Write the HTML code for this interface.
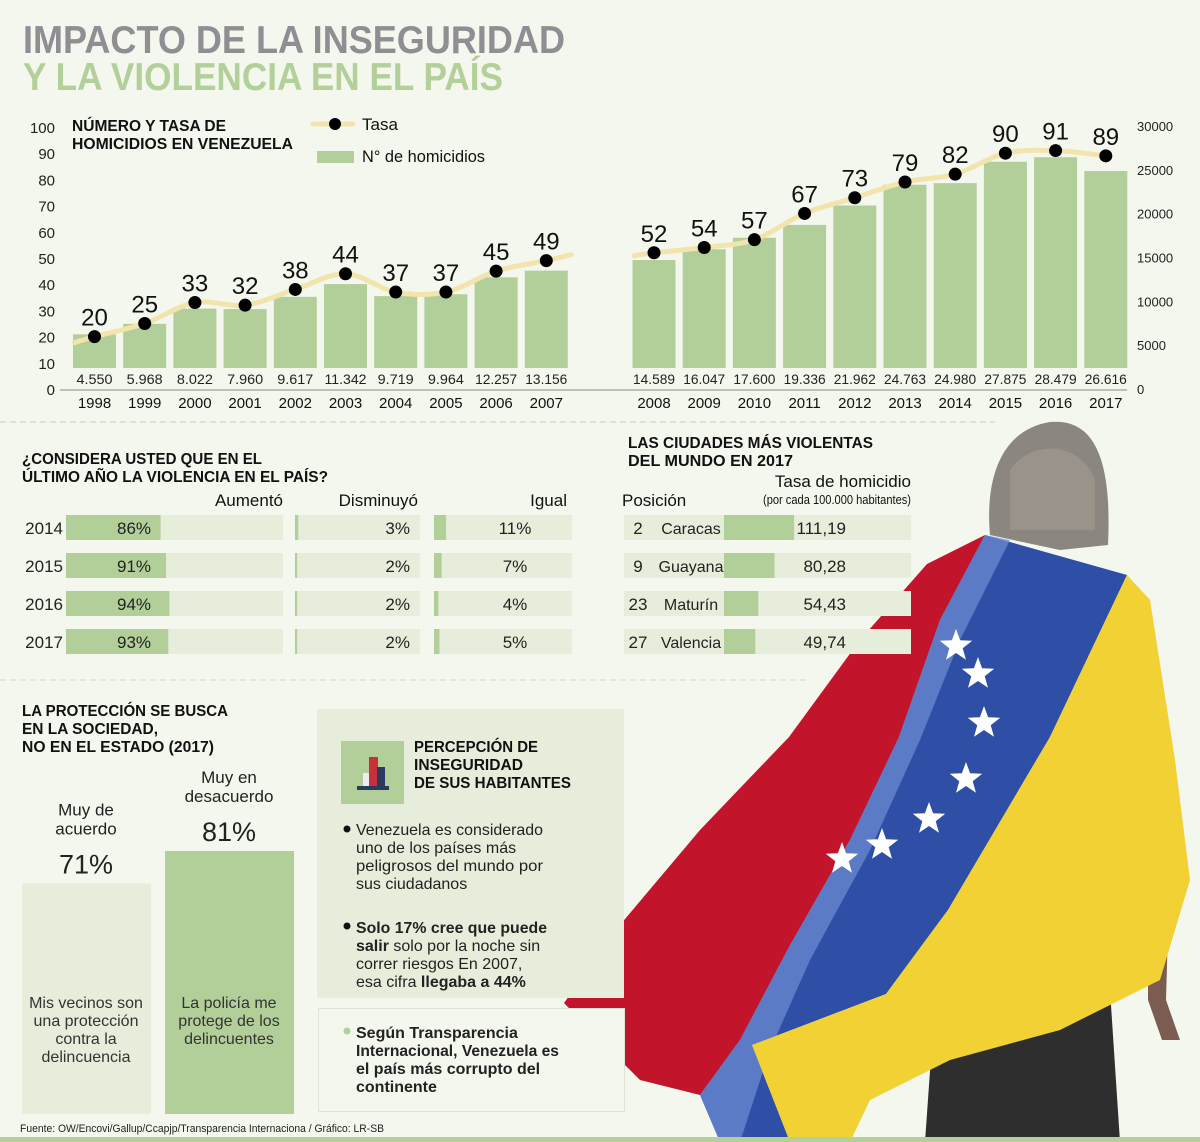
<!DOCTYPE html>
<html><head><meta charset="utf-8">
<style>
html,body{margin:0;padding:0;background:#f4f7ee;}
svg{display:block;font-family:"Liberation Sans Narrow","Liberation Sans",sans-serif;}
.b{font-weight:bold}
</style></head>
<body>
<svg id="page" width="1200" height="1142" viewBox="0 0 1200 1142">
<rect x="0" y="0" width="1200" height="1142" fill="#f4f7ee"/>

<!-- Person and flag illustration (behind everything) -->
<g>
<path d="M935,1000 L1110,990 L1120,1142 L925,1142 Z" fill="#2e2e2e"/>
<path d="M1148,854 L1170,860 L1166,1000 L1180,1040 L1162,1040 L1148,1000 Z" fill="#7a5d50"/>
<path d="M990,535 C985,480 1000,430 1050,422 C1095,418 1112,460 1108,545 L1060,550 Z" fill="#8c8680"/>
<path d="M1010,470 C1030,440 1080,440 1095,480 L1095,530 L1010,530 Z" fill="#a39c90" opacity="0.6"/>
<path d="M564,1003 L625,919 L700,830 L789,737 L860,640 L927,564 L985,535 L940,620 L899,737 L850,840 L789,947 L740,1040 L700,1095 L640,1080 L600,1040 Z" fill="#c2142b"/>
<path d="M985,535 L1127,575 L1050,737 L948,910 L886,994 L752,1045 L790,1142 L720,1142 L700,1095 L740,1040 L789,947 L850,840 L899,737 L940,620 Z" fill="#2f4fa6"/>
<path d="M985,535 L1010,540 L960,640 L920,740 L870,850 L810,960 L770,1050 L740,1142 L720,1142 L700,1095 L740,1040 L789,947 L850,840 L899,737 L940,620 Z" fill="#6f8fd6" opacity="0.7"/>
<path d="M1127,575 L1150,600 L1175,760 L1190,880 L1160,980 L1060,1030 L950,1060 L870,1100 L850,1142 L790,1142 L752,1045 L886,994 L948,910 L1050,737 Z" fill="#f1d133"/>
<g fill="#fff" id="stars"></g>
</g>

<!-- Title -->
<text x="23" y="53" font-size="39" class="b" fill="#8e8e93" textLength="542" lengthAdjust="spacingAndGlyphs">IMPACTO DE LA INSEGURIDAD</text>
<text x="23" y="90" font-size="39" class="b" fill="#b3d09a" textLength="480" lengthAdjust="spacingAndGlyphs">Y LA VIOLENCIA EN EL PAÍS</text>

<!-- Chart 1 -->
<g id="chart1">
<text x="72" y="131" font-size="16" class="b" fill="#111" textLength="154" lengthAdjust="spacingAndGlyphs">NÚMERO Y TASA DE</text>
<text x="72" y="149" font-size="16" class="b" fill="#111" textLength="221" lengthAdjust="spacingAndGlyphs">HOMICIDIOS EN VENEZUELA</text>
<g>
<line x1="313" y1="124" x2="353" y2="124" stroke="#f1e4ad" stroke-width="5" stroke-linecap="round"/>
<circle cx="335" cy="124" r="6" fill="#000"/>
<text x="362" y="130" font-size="17" fill="#111">Tasa</text>
<rect x="317" y="151" width="37" height="12" fill="#b2cf9a"/>
<text x="362" y="162" font-size="17" fill="#111" textLength="123" lengthAdjust="spacingAndGlyphs">N° de homicidios</text>
</g>
<line x1="60" y1="390" x2="1127" y2="390" stroke="#888" stroke-width="1"/>
</g>

<!-- separator -->
<line x1="0" y1="422" x2="995" y2="422" stroke="#c8c8c8" stroke-dasharray="6,4"/>
<line x1="0" y1="680" x2="810" y2="680" stroke="#d4d4d4" stroke-dasharray="6,4"/>

<!-- Survey -->
<g id="survey">
<text x="22" y="464" font-size="16" class="b" fill="#111" textLength="240" lengthAdjust="spacingAndGlyphs">¿CONSIDERA USTED QUE EN EL</text>
<text x="22" y="482" font-size="16" class="b" fill="#111" textLength="306" lengthAdjust="spacingAndGlyphs">ÚLTIMO AÑO LA VIOLENCIA EN EL PAÍS?</text>
<text x="283" y="506" font-size="17" text-anchor="end" fill="#111">Aumentó</text>
<text x="418" y="506" font-size="17" text-anchor="end" fill="#111">Disminuyó</text>
<text x="567" y="506" font-size="17" text-anchor="end" fill="#111">Igual</text>
</g>

<!-- Cities -->
<g id="cities">
<text x="628" y="448" font-size="16" class="b" fill="#111" textLength="245" lengthAdjust="spacingAndGlyphs">LAS CIUDADES MÁS VIOLENTAS</text>
<text x="628" y="466" font-size="16" class="b" fill="#111" textLength="165" lengthAdjust="spacingAndGlyphs">DEL MUNDO EN 2017</text>
<text x="622" y="506" font-size="17" fill="#111">Posición</text>
<text x="911" y="487" font-size="17" text-anchor="end" fill="#111">Tasa de homicidio</text>
<text x="911" y="504" font-size="13" text-anchor="end" fill="#111" textLength="148" lengthAdjust="spacingAndGlyphs">(por cada 100.000 habitantes)</text>
</g>

<!-- Protection -->
<g>
<text x="22" y="716" font-size="16" class="b" fill="#111" textLength="206" lengthAdjust="spacingAndGlyphs">LA PROTECCIÓN SE BUSCA</text>
<text x="22" y="734" font-size="16" class="b" fill="#111" textLength="136" lengthAdjust="spacingAndGlyphs">EN LA SOCIEDAD,</text>
<text x="22" y="752" font-size="16" class="b" fill="#111" textLength="192" lengthAdjust="spacingAndGlyphs">NO EN EL ESTADO (2017)</text>
<g id="protbars"></g>
</g>

<!-- Perception box -->
<g>
<rect x="317" y="709" width="307" height="289" fill="#e6eedb"/>
<rect x="341" y="741" width="63" height="63" fill="#b2cf9a"/>
<rect x="363" y="773" width="8" height="14" fill="#eee"/>
<rect x="369" y="757" width="9" height="30" fill="#c8303c"/>
<rect x="377" y="767" width="8" height="20" fill="#2b3a5e"/>
<rect x="357" y="786" width="32" height="4" fill="#2b3a5e"/>
<text x="414" y="752" font-size="16" class="b" fill="#111" textLength="124" lengthAdjust="spacingAndGlyphs">PERCEPCIÓN DE</text>
<text x="414" y="770" font-size="16" class="b" fill="#111" textLength="109" lengthAdjust="spacingAndGlyphs">INSEGURIDAD</text>
<text x="414" y="788" font-size="16" class="b" fill="#111" textLength="157" lengthAdjust="spacingAndGlyphs">DE SUS HABITANTES</text>
<g font-size="16" fill="#222">
<circle cx="347" cy="829" r="3.5" fill="#111"/>
<text x="356" y="835" textLength="187" lengthAdjust="spacingAndGlyphs">Venezuela es considerado</text>
<text x="356" y="853">uno de los países más</text>
<text x="356" y="871" textLength="187" lengthAdjust="spacingAndGlyphs">peligrosos del mundo por</text>
<text x="356" y="889">sus ciudadanos</text>
</g>
<g font-size="16" fill="#222">
<circle cx="347" cy="926" r="3.5" fill="#111"/>
<text x="356" y="933" textLength="191" lengthAdjust="spacingAndGlyphs"><tspan font-weight="bold">Solo 17% cree que puede</tspan></text>
<text x="356" y="951"><tspan font-weight="bold">salir</tspan> solo por la noche sin</text>
<text x="356" y="969">correr riesgos En 2007,</text>
<text x="356" y="987">esa cifra <tspan font-weight="bold">llegaba a 44%</tspan></text>
</g>
<rect x="318.5" y="1008.5" width="306" height="103" fill="#f4f7ee" stroke="#dde6d2"/>
<g font-size="16" fill="#222" font-weight="bold">
<circle cx="347" cy="1031" r="3.5" fill="#b2cf9a"/>
<text x="356" y="1038">Según Transparencia</text>
<text x="356" y="1056" textLength="203" lengthAdjust="spacingAndGlyphs">Internacional, Venezuela es</text>
<text x="356" y="1074">el país más corrupto del</text>
<text x="356" y="1092">continente</text>
</g>
</g>

<text x="20" y="1132" font-size="11" fill="#222" textLength="364" lengthAdjust="spacingAndGlyphs">Fuente: OW/Encovi/Gallup/Ccapjp/Transparencia Internaciona / Gráfico: LR-SB</text>
<rect x="0" y="1137" width="1200" height="5" fill="#b3d09a"/>
</svg>

<script>
// ---- Chart 1 data ----
const years1 = ["1998","1999","2000","2001","2002","2003","2004","2005","2006","2007"];
const years2 = ["2008","2009","2010","2011","2012","2013","2014","2015","2016","2017"];
const homicides1 = [4550,5968,8022,7960,9617,11342,9719,9964,12257,13156];
const homicides2 = [14589,16047,17600,19336,21962,24763,24980,27875,28479,26616];
const rate1 = [20,25,33,32,38,44,37,37,45,49];
const rate2 = [52,54,57,67,73,79,82,90,91,89];
const homLabels1 = ["4.550","5.968","8.022","7.960","9.617","11.342","9.719","9.964","12.257","13.156"];
const homLabels2 = ["14.589","16.047","17.600","19.336","21.962","24.763","24.980","27.875","28.479","26.616"];
const leftTicks = [0,10,20,30,40,50,60,70,80,90,100];
const rightTicks = [0,5000,10000,15000,20000,25000,30000];

// ---- Survey data ----
const surveyYears = ["2014","2015","2016","2017"];
const aumento = [86,91,94,93];
const disminuyo = [3,2,2,2];
const igual = [11,7,4,5];

// ---- Cities data ----
const cityPos = ["2","9","23","27"];
const cityNames = ["Caracas","Guayana","Maturín","Valencia"];
const cityRates = [111.19,80.28,54.43,49.74];

// ---- Protection data ----
const protLabels = [["Muy de","acuerdo"],["Muy en","desacuerdo"]];
const protValues = [71,81];
const protDesc = [["Mis vecinos son","una protección","contra la","delincuencia"],["La policía me","protege de los","delincuentes"]];

const NS = "http://www.w3.org/2000/svg";
function mk(tag, attrs, parent, txt){
  const e = document.createElementNS(NS, tag);
  for (const k in attrs) e.setAttribute(k, attrs[k]);
  if (txt !== undefined) e.textContent = txt;
  parent.appendChild(e);
  return e;
}
const chart = document.getElementById("chart1");
const rateY = v => 389 - v * 2.62;
const barY = v => 368 - v * 0.0074;
const xCenter = (g, i) => (g === 0 ? 94.5 : 654) + i * 50.2;

leftTicks.forEach(t => {
  const e = mk("text", {x: 55, y: rateY(t) + 6, "font-size": 15, "text-anchor": "end", fill: "#222"}, chart, String(t));
  
  
});
rightTicks.forEach(t => {
  const e = mk("text", {x: 1137, y: 389 - t / 30000 * 263 + 5, "font-size": 13, fill: "#222"}, chart, String(t));
  
  
});

function smooth(pts){
  let d = "M" + pts[0][0] + "," + pts[0][1];
  for (let i = 0; i < pts.length - 1; i++){
    const p0 = pts[i-1] || pts[i], p1 = pts[i], p2 = pts[i+1], p3 = pts[i+2] || p2;
    const c1x = p1[0] + (p2[0]-p0[0])/6, c1y = p1[1] + (p2[1]-p0[1])/6;
    const c2x = p2[0] - (p3[0]-p1[0])/6, c2y = p2[1] - (p3[1]-p1[1])/6;
    d += " C" + c1x + "," + c1y + " " + c2x + "," + c2y + " " + p2[0] + "," + p2[1];
  }
  return d;
}

[[years1, homicides1, rate1, homLabels1], [years2, homicides2, rate2, homLabels2]].forEach((grp, g) => {
  const [yrs, hom, rate, lbl] = grp;
  yrs.forEach((yr, i) => {
    const cx = xCenter(g, i);
    const r = mk("rect", {x: cx - 21.5, y: barY(hom[i]), width: 43, height: 368 - barY(hom[i]), fill: "#b2cf9a"}, chart);
    
    
    const vl = mk("text", {x: cx, y: 384, "font-size": 14, "text-anchor": "middle", fill: "#222", textLength: lbl[i].length > 5 ? 42 : 36, lengthAdjust: "spacingAndGlyphs"}, chart, lbl[i]);
    
    
    const yl = mk("text", {x: cx, y: 408, "font-size": 15, "text-anchor": "middle", fill: "#111"}, chart, yr);
    
    
  });
  const pts = rate.map((v, i) => [xCenter(g, i), rateY(v)]);
  const first = [pts[0][0] - 20, pts[0][1] + 3 * (g === 0 ? 2 : 1)];
  const last = [pts[pts.length-1][0] + (g === 0 ? 25 : 0), pts[pts.length-1][1] - (g === 0 ? 6 : 0)];
  const all = g === 0 ? [first, ...pts, last] : [first, ...pts];
  const ln = mk("path", {d: smooth(all), fill: "none", stroke: "#f1e4ad", "stroke-width": 5, "stroke-linecap": "round"}, chart);
  
  
  rate.forEach((v, i) => {
    const c = mk("circle", {cx: pts[i][0], cy: pts[i][1], r: 6.5, fill: "#000"}, chart);
    
    
    const t = mk("text", {x: pts[i][0], y: pts[i][1] - 11, "font-size": 24, "text-anchor": "middle", fill: "#111"}, chart, String(v));
    
    
  });
});

const sv = document.getElementById("survey");
const rowY = i => 515 + i * 38;
surveyYears.forEach((yr, i) => {
  const y = rowY(i);
  const yt = mk("text", {x: 63, y: y + 19, "font-size": 17, "text-anchor": "end", fill: "#222"}, sv, yr);
  
  
  [[66,217,aumento[i],"aumento"],[295,125,disminuyo[i],"disminuyo"],[434,138,igual[i],"igual"]].forEach(c => {
    const tr = mk("rect", {x: c[0], y: y, width: c[1], height: 25, fill: "#e6eedb"}, sv);
    
    
    const b = mk("rect", {x: c[0], y: y, width: c[2] * 1.1, height: 25, fill: "#b2cf9a"}, sv);
    
    
  });
  const t1 = mk("text", {x: 134, y: y + 19, "font-size": 17, "text-anchor": "middle", fill: "#222"}, sv, aumento[i] + "%");
  
  
  const t2 = mk("text", {x: 410, y: y + 19, "font-size": 17, "text-anchor": "end", fill: "#222"}, sv, disminuyo[i] + "%");
  
  
  const t3 = mk("text", {x: 515, y: y + 19, "font-size": 17, "text-anchor": "middle", fill: "#222"}, sv, igual[i] + "%");
  
  
});

const ct = document.getElementById("cities");
cityNames.forEach((n, i) => {
  const y = rowY(i);
  const tr = mk("rect", {x: 624, y: y, width: 287, height: 25, fill: "#e6eedb"}, ct);
  
  
  const b = mk("rect", {x: 724, y: y, width: cityRates[i] * 0.63, height: 25, fill: "#b2cf9a"}, ct);
  
  
  const p = mk("text", {x: 638, y: y + 19, "font-size": 17, "text-anchor": "middle", fill: "#222"}, ct, cityPos[i]);
  
  
  const nm = mk("text", {x: 691, y: y + 19, "font-size": 16, "text-anchor": "middle", fill: "#222"}, ct, n);
  
  
  const v = mk("text", {x: 846, y: y + 19, "font-size": 17, "text-anchor": "end", fill: "#222"}, ct, cityRates[i].toFixed(2).replace(".", ","));
  
  
});

const pb = document.getElementById("protbars");
const pScale = 263 / 81;
protValues.forEach((v, i) => {
  const x = i === 0 ? 22 : 165;
  const cx = x + 64;
  const top = 1114 - v * pScale;
  const r = mk("rect", {x: x, y: top, width: 129, height: 1114 - top, fill: i === 0 ? "#e6eedb" : "#b2cf9a"}, pb);
  
  
  const pv = mk("text", {x: cx, y: top - 10, "font-size": 27, "text-anchor": "middle", fill: "#222"}, pb, v + "%");
  
  
  protLabels[i].forEach((l, j) => {
    const t = mk("text", {x: cx, y: top - 68 + j * 19, "font-size": 17, "text-anchor": "middle", fill: "#222"}, pb, l);
    
    
  });
  protDesc[i].forEach((l, j) => {
    const t = mk("text", {x: cx, y: 1008 + j * 18, "font-size": 16, "text-anchor": "middle", fill: "#333"}, pb, l);
    
    
  });
});

const st = document.getElementById("stars");
const starPos = [[956,646],[978,674],[984,723],[966,779],[929,819],[882,845],[842,859]];
starPos.forEach(p => {
  let d = "";
  for (let k = 0; k < 10; k++){
    const a = -Math.PI/2 + k * Math.PI/5, r = k % 2 ? 7 : 17;
    d += (k ? "L" : "M") + (p[0] + r*Math.cos(a)).toFixed(1) + "," + (p[1] + r*Math.sin(a)).toFixed(1);
  }
  const s = mk("path", {d: d + "Z"}, st);
  
  
});
</script>
</body></html>
